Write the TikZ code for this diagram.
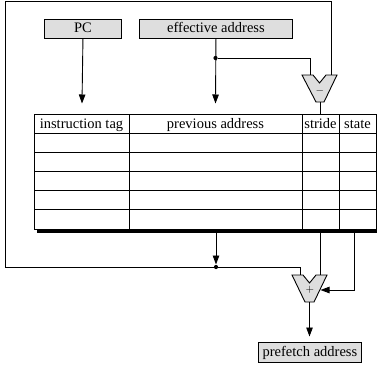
\documentclass[tikz,border=0pt]{standalone}
\usepackage{fontspec}
\setmainfont{Liberation Serif}
\usetikzlibrary{arrows.meta}
\definecolor{boxgray}{HTML}{DEDEDE}
\begin{document}
\begin{tikzpicture}[x=1pt,y=-1pt,
  every node/.style={font=\fontsize{14.5}{17}\selectfont, inner sep=0pt},
  graybox/.style={draw, fill=boxgray, line width=0.9pt, minimum height=19pt, anchor=north west, text height=10.5pt, text depth=2.5pt},
  hdr/.style={anchor=base},
  wire/.style={line width=0.9pt},
  arr/.style={wire, -{Triangle[length=9pt,width=6.5pt]}},
  tabline/.style={line width=1pt},
  alu/.style={draw, fill=boxgray, line width=0.9pt},
  dot/.style={circle, fill=black, inner sep=0pt, minimum size=4.2pt}
]
\useasboundingbox (0,0) rectangle (377,370);

% top input boxes
\node[graybox, minimum width=77pt] (pc) at (44,19) {PC};
\node[graybox, minimum width=153pt] (ea) at (139,19) {effective address};

% table
\draw[line width=2.8pt] (37,231.3) -- (377,231.3);
\fill[white] (34,114) rectangle (376,229);
\foreach \y in {133,152.2,171.4,190.6,209.8}
  \draw[tabline] (34,\y) -- (376,\y);
\draw[tabline] (34,114) rectangle (376,229);
\foreach \x in {129,302,339}
  \draw[tabline] (\x,114) -- (\x,229);
\node[hdr] (hdtag)  at (81.5,128) {instruction tag};
\node[hdr] (hdprev) at (215.5,128) {previous address};
\node[hdr] (hdstr)  at (320.5,128) {stride};
\node[hdr] (hdst)   at (357.5,128) {state};

% coordinates on table
\coordinate (tagin) at (82,103.5);
\coordinate (previn) at (215.5,103.5);
\coordinate (strtop) at (320,114);
\coordinate (prevout) at (216,229);
\coordinate (strout) at (320,229);
\coordinate (stout) at (354,229);

% subtractor
\draw[alu] (302,75) -- (313,75) -- (319.5,83) -- (326,75) -- (337,75) -- (324,102) -- (316,102) -- cycle;
\node[font=\fontsize{11}{12}\selectfont] (minus) at (320,90.5) {$-$};
\coordinate (subL) at (310,75);
\coordinate (subR) at (331,75);
\coordinate (subout) at (320,102);

% adder
\draw[alu] (292,275) -- (303,275) -- (309.5,283) -- (316,275) -- (327,275) -- (314,302) -- (305,302) -- cycle;
\node[font=\fontsize{11}{12}\selectfont] (plus) at (310,290) {$+$};
\coordinate (addL) at (300,275);
\coordinate (addR) at (320,275);
\coordinate (addside) at (320.5,290);
\coordinate (addout) at (309.5,302);

% prefetch box
\node[graybox, minimum width=103pt, minimum height=20pt] (pf) at (258,342) {prefetch address};
\coordinate (pfin) at (309.5,336.5);

% dots
\node[dot] (d1) at (215.5,58) {};
\node[dot] (d2) at (216,267) {};

% connectors
\draw[arr] (pc.south) -- (tagin);
\draw[arr] (ea.south) -- (previn);
\draw[wire] (d1) -- (310,58) -- (subL);
\draw[wire] (subout) -- (strtop);
\draw[wire] (d2) -- (5,267) -- (5,1) -- (331,1) -- (subR);
\draw[wire] (d2) -- (300,267) -- (addL);
\draw[arr] (prevout) -- (216,264.5);
\draw[wire] (strout) -- (addR);
\draw[arr] (stout) -- (354,290) -- (addside);
\draw[arr] (addout) -- (pfin);
\end{tikzpicture}
\end{document}
